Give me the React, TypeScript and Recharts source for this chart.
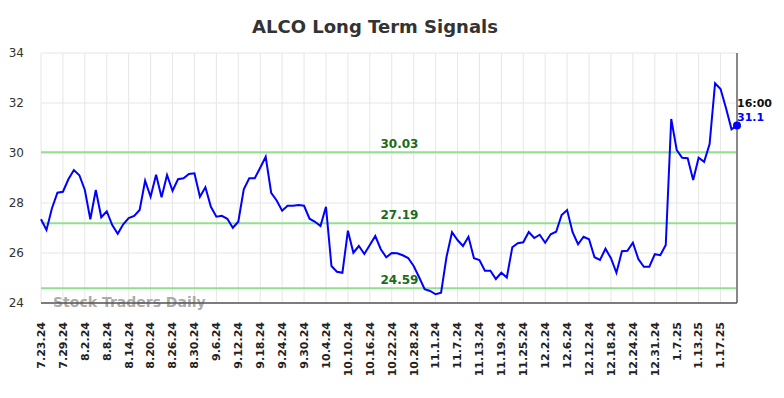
import { LineChart, Line, XAxis, YAxis, CartesianGrid, ReferenceLine } from 'recharts'

const dates = [
  '7.23.24', '7.24.24', '7.25.24', '7.26.24', '7.29.24', '7.30.24', '7.31.24', '8.1.24',
  '8.2.24', '8.5.24', '8.6.24', '8.7.24', '8.8.24', '8.9.24', '8.12.24', '8.13.24',
  '8.14.24', '8.15.24', '8.16.24', '8.19.24', '8.20.24', '8.21.24', '8.22.24', '8.23.24',
  '8.26.24', '8.27.24', '8.28.24', '8.29.24', '8.30.24', '9.3.24', '9.4.24', '9.5.24',
  '9.6.24', '9.9.24', '9.10.24', '9.11.24', '9.12.24', '9.13.24', '9.16.24', '9.17.24',
  '9.18.24', '9.19.24', '9.20.24', '9.23.24', '9.24.24', '9.25.24', '9.26.24', '9.27.24',
  '9.30.24', '10.1.24', '10.2.24', '10.3.24', '10.4.24', '10.7.24', '10.8.24', '10.9.24',
  '10.10.24', '10.11.24', '10.14.24', '10.15.24', '10.16.24', '10.17.24', '10.18.24', '10.21.24',
  '10.22.24', '10.23.24', '10.24.24', '10.25.24', '10.28.24', '10.29.24', '10.30.24', '10.31.24',
  '11.1.24', '11.4.24', '11.5.24', '11.6.24', '11.7.24', '11.8.24', '11.11.24', '11.12.24',
  '11.13.24', '11.14.24', '11.15.24', '11.18.24', '11.19.24', '11.20.24', '11.21.24', '11.22.24',
  '11.25.24', '11.26.24', '11.27.24', '11.29.24', '12.2.24', '12.3.24', '12.4.24', '12.5.24',
  '12.6.24', '12.9.24', '12.10.24', '12.11.24', '12.12.24', '12.13.24', '12.16.24', '12.17.24',
  '12.18.24', '12.19.24', '12.20.24', '12.23.24', '12.24.24', '12.26.24', '12.27.24', '12.30.24',
  '12.31.24', '1.2.25', '1.3.25', '1.6.25', '1.7.25', '1.8.25', '1.9.25', '1.10.25',
  '1.13.25', '1.14.25', '1.15.25', '1.16.25', '1.17.25', '1.21.25', '1.22.25', '1.23.25',
]

const prices = [
  27.35, 26.92, 27.79, 28.41, 28.45, 28.95, 29.32, 29.11,
  28.52, 27.35, 28.52, 27.43, 27.67, 27.12, 26.77, 27.15,
  27.4, 27.48, 27.72, 28.89, 28.25, 29.13, 28.23, 29.12,
  28.49, 28.95, 28.99, 29.16, 29.19, 28.25, 28.63, 27.85,
  27.45, 27.49, 27.37, 27.01, 27.25, 28.55, 28.99, 28.99,
  29.41, 29.85, 28.41, 28.1, 27.69, 27.89, 27.89, 27.92,
  27.89, 27.37, 27.25, 27.08, 27.85, 25.48, 25.25, 25.21,
  26.89, 26.01, 26.28, 25.96, 26.32, 26.68, 26.15, 25.83,
  26.0, 25.99, 25.91, 25.8, 25.48, 25.03, 24.55, 24.48,
  24.35, 24.41, 25.85, 26.83, 26.52, 26.28, 26.65, 25.79,
  25.72, 25.29, 25.29, 24.96, 25.21, 25.02, 26.23, 26.39,
  26.43, 26.84, 26.6, 26.73, 26.41, 26.75, 26.85, 27.52,
  27.72, 26.83, 26.35, 26.65, 26.55, 25.83, 25.72, 26.17,
  25.79, 25.21, 26.07, 26.09, 26.41, 25.76, 25.45, 25.45,
  25.95, 25.91, 26.32, 31.36, 30.12, 29.81, 29.79, 28.92,
  29.81, 29.65, 30.36, 32.79, 32.56, 31.79, 30.95, 31.1,
]

const signals = [30.03, 27.19, 24.59]
const yTicks = [24, 26, 28, 30, 32, 34]
const lastTime = '16:00'

const data = dates.map((d, i) => ({ date: d, price: prices[i] }))
const font = 'DejaVu Sans, sans-serif'

function DateTick({ x, y, payload }: any) {
  return (
    <g transform={`translate(${x},${y + 19})`}>
      <text transform="rotate(-90)" textAnchor="end" dy="0.35em" fontSize={11} fontWeight="bold" fill="#222" fontFamily={font}>
        {payload.value}
      </text>
    </g>
  )
}

function LastDot({ cx, cy, index }: any) {
  if (index !== prices.length - 1) return null
  return (
    <g>
      <circle cx={cx} cy={cy} r={4} fill="#0000ff" />
      <text x={cx} y={cy - 19} fontSize={11} fontWeight="bold" fill="#111" fontFamily={font}>{lastTime}</text>
      <text x={cx} y={cy - 5} fontSize={11} fontWeight="bold" fill="#0000ff" fontFamily={font}>{prices[prices.length - 1]}</text>
    </g>
  )
}

function SignalLabel({ viewBox, value }: any) {
  return (
    <text x={viewBox.x + viewBox.width * 0.515} y={viewBox.y - 4} textAnchor="middle" fontSize={12} fontWeight="bold" fill="#1a6b1a" fontFamily={font}>
      {value.toFixed(2)}
    </text>
  )
}

export default function App() {
  return (
    <div style={{ position: 'absolute', left: 0, top: 0, width: 784, height: 398, background: '#fff' }}>
      <LineChart width={784} height={398} data={data} margin={{ top: 53, right: 47, bottom: 0, left: 0 }}>
        <text x={375} y={33} textAnchor="middle" fontSize={18} fontWeight="bold" fill="#333" fontFamily={font}>
          ALCO Long Term Signals
        </text>
        <CartesianGrid stroke="#e6e6e6" />
        <XAxis
          dataKey="date"
          interval={3}
          height={95}
          tickLine={false}
          tickSize={0}
          tickMargin={0}
          axisLine={{ stroke: '#555', strokeWidth: 1.5 }}
          tick={<DateTick />}
        />
        <YAxis
          domain={[24, 34]}
          ticks={yTicks}
          width={41}
          axisLine={false}
          tickLine={false}
          tickSize={0}
          tickMargin={17}
          tick={{ fontSize: 12, fill: '#333', fontFamily: font }}
        />
        {signals.map(s => (
          <ReferenceLine key={s} y={s} stroke="#90e090" strokeWidth={2} label={<SignalLabel value={s} />} />
        ))}
        <ReferenceLine x={dates[dates.length - 1]} stroke="#888" strokeWidth={2} />
        <Line
          type="linear"
          dataKey="price"
          stroke="#0000ff"
          strokeWidth={2}
          dot={<LastDot />}
          activeDot={false}
          isAnimationActive={false}
        />
        <text x={53} y={307} fontSize={14} fontWeight="bold" fill="#a0a0a0" fillOpacity={0.9} fontFamily={font}>
          Stock Traders Daily
        </text>
      </LineChart>
    </div>
  )
}
